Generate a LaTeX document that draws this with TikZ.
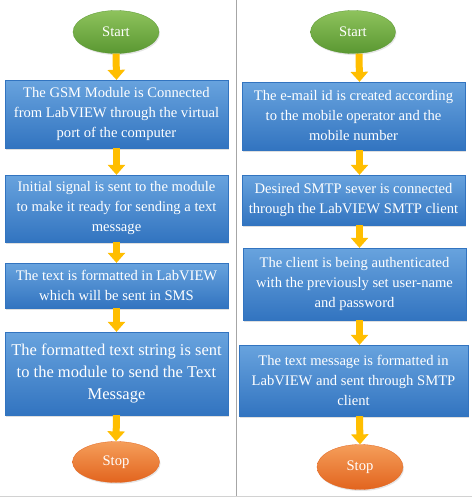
\documentclass[tikz,border=0pt]{standalone}
\usepackage{fontspec}
\setmainfont{Liberation Serif}
\usetikzlibrary{arrows.meta,shapes.geometric,shadows}
\definecolor{boxtop}{RGB}{104,163,222}
\definecolor{boxbot}{RGB}{50,116,192}
\definecolor{starttop}{RGB}{142,194,92}
\definecolor{startbot}{RGB}{90,152,50}
\definecolor{stoptop}{RGB}{245,158,90}
\definecolor{stopbot}{RGB}{226,100,30}
\definecolor{arrcol}{RGB}{255,190,0}
\tikzset{
  procbox/.style={rectangle,top color=boxtop,bottom color=boxbot,draw=boxbot,
    line width=0.3pt,text=white,align=center,inner sep=0pt,
    drop shadow={opacity=0.25,shadow xshift=1pt,shadow yshift=-1.5pt},
    font=\fontsize{14.6}{20}\selectfont},
  startterm/.style={ellipse,top color=starttop,bottom color=startbot,draw=startbot,
    line width=0.3pt,text=white,inner sep=0pt,
    drop shadow={opacity=0.2,shadow xshift=1pt,shadow yshift=-1.5pt},
    font=\fontsize{14.6}{17}\selectfont},
  stopterm/.style={startterm,top color=stoptop,bottom color=stopbot,draw=stopbot},
  flowarr/.style={draw=arrcol,line width=7pt,-{Triangle[width=17pt,length=10pt]}}
}
\begin{document}
\begin{tikzpicture}[x=1pt,y=-1pt]
\useasboundingbox (0,0) rectangle (474,498);
\fill[white] (0,0) rectangle (474,498);
% frame
\draw[gray!70,line width=1pt] (236,0) -- (236,497);
\draw[gray!35,line width=1pt] (0,496) -- (472,496);

% left column: GSM
\node[startterm,minimum width=86pt,minimum height=43pt] (ls) at (116,32) {Start};
\node[procbox,minimum width=223pt,minimum height=68pt] (l1) at (116.5,114)
  {The GSM Module is Connected\\from LabVIEW through the virtual\\port of the computer};
\node[procbox,minimum width=223pt,minimum height=67pt] (l2) at (116.5,208.5)
  {Initial signal is sent to the module\\to make it ready for sending a text\\message};
\node[procbox,minimum width=223pt,minimum height=45pt] (l3) at (116.5,285.5)
  {The text is formatted in LabVIEW\\which will be sent in SMS};
\node[procbox,minimum width=223pt,minimum height=83pt,font=\fontsize{16.5}{21.7}\selectfont] (l4) at (116.5,373.5)
  {The formatted text string is sent\\to the module to send the Text\\Message};
\node[stopterm,minimum width=87pt,minimum height=41pt] (le) at (116,462) {Stop};

\draw[flowarr] (ls.south) -- (l1.north);
\draw[flowarr] (l1.south) -- (l2.north);
\draw[flowarr] (l2.south) -- (l3.north);
\draw[flowarr] (l3.south) -- (l4.north);
\draw[flowarr] (l4.south) -- (le.north);

% right column: e-mail
\node[startterm,minimum width=85pt,minimum height=43pt] (rs) at (353,32) {Start};
\node[procbox,minimum width=223pt,minimum height=68pt] (r1) at (353.5,116)
  {The e-mail id is created according\\to the mobile operator and the\\mobile number};
\node[procbox,minimum width=223pt,minimum height=50pt] (r2) at (353.5,200)
  {Desired SMTP sever is connected\\through the LabVIEW SMTP client};
\node[procbox,minimum width=223pt,minimum height=72pt] (r3) at (354.5,284)
  {The client is being authenticated\\with the previously set user-name\\and password};
\node[procbox,minimum width=229pt,minimum height=71pt] (r4) at (353.5,380.5)
  {The text message is formatted in\\LabVIEW and sent through SMTP\\client};
\node[stopterm,minimum width=86pt,minimum height=45pt] (re) at (360,467) {Stop};

\draw[flowarr] ([xshift=6pt]rs.south) -- ([xshift=6pt]r1.north);
\draw[flowarr] ([xshift=6pt]r1.south) -- ([xshift=6pt]r2.north);
\draw[flowarr] ([xshift=6pt]r2.south) -- ([xshift=5pt]r3.north);
\draw[flowarr] ([xshift=5pt]r3.south) -- ([xshift=6pt]r4.north);
\draw[flowarr] ([xshift=6pt]r4.south) -- (re.north);
\end{tikzpicture}
\end{document}
